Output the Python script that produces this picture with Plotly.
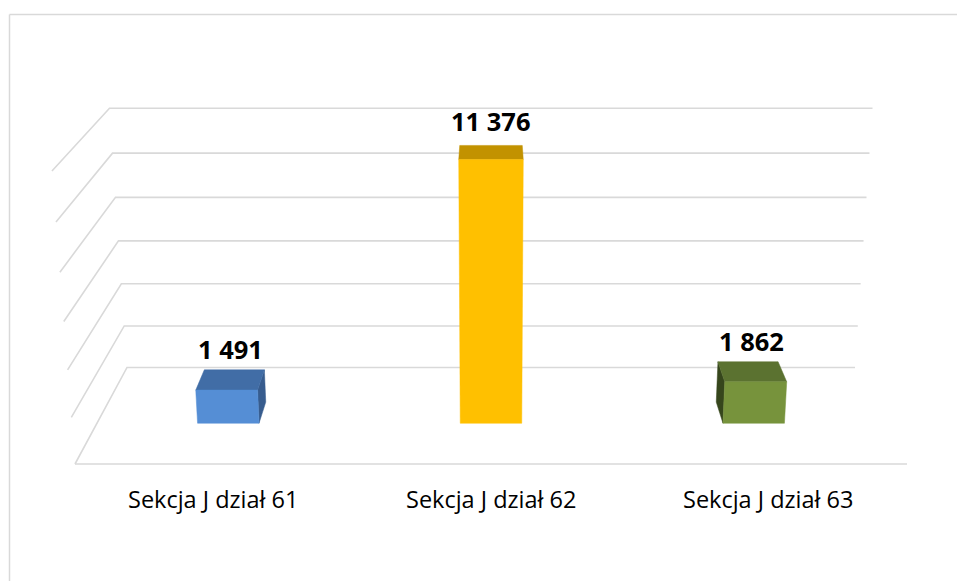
import plotly.graph_objects as go

# chart data
categories = ["Sekcja J dział 61", "Sekcja J dział 62", "Sekcja J dział 63"]
values = [1491, 11376, 1862]
gridline_values = [0, 2000, 4000, 6000, 8000, 10000, 12000]
axis_max = 12000

# colours of the three visible faces of each column
front_colors = ["#558ed5", "#ffc000", "#77933c"]
top_colors = ["#416da6", "#c29200", "#5b7230"]
side_colors = ["#375c8e", "#a67d00", "#36461c"]

W, H = 957, 581

# simple perspective camera (centred, looking slightly down) in pixel space
CX = 491
HALF_W = 416
FLOOR_FRONT = 464
WALL_H = 302
FLOOR_D = 44
PERSP_Y = -0.0525
PERSP_Z = 0.1429

BAR_HALF = 0.078          # half width of a column, in wall units (wall = -1..1)
Z_FRONT, Z_BACK = 0.39, 0.61
GRID_COLOR = "#d9d9d9"


def project(x, v, z):
    """world (x in -1..1, value, depth 0..1) -> pixel coords"""
    y = v / axis_max
    d = 1 + PERSP_Y * y + PERSP_Z * z
    return CX + HALF_W * x / d, (FLOOR_FRONT - WALL_H * y - FLOOR_D * z) / d


def polygon(points, color):
    xs, ys = zip(*[project(*p) for p in points])
    return go.Scatter(
        x=list(xs) + [xs[0]], y=list(ys) + [ys[0]],
        mode="lines", fill="toself", fillcolor=color,
        line=dict(width=0.5, color=color), hoverinfo="skip",
    )


fig = go.Figure()

# left wall + back wall gridlines, then the front edge of the floor
gx, gy = [], []
for t in gridline_values:
    for p in [(-1, t, 0), (-1, t, 1), (1, t, 1)]:
        px, py = project(*p)
        gx.append(px)
        gy.append(py)
    gx.append(None)
    gy.append(None)
for p in [(-1, 0, 0), (1, 0, 0)]:
    px, py = project(*p)
    gx.append(px)
    gy.append(py)
fig.add_trace(go.Scatter(x=gx, y=gy, mode="lines",
                         line=dict(color=GRID_COLOR, width=1.6), hoverinfo="skip"))

n = len(categories)
for i, v in enumerate(values):
    xc = -1 + (i + 0.5) * 2 / n
    x0, x1 = xc - BAR_HALF, xc + BAR_HALF

    # inner side face (only visible when the column is off-centre)
    if x1 < 0:
        fig.add_trace(polygon([(x1, 0, Z_FRONT), (x1, 0, Z_BACK),
                               (x1, v, Z_BACK), (x1, v, Z_FRONT)], side_colors[i]))
    elif x0 > 0:
        fig.add_trace(polygon([(x0, 0, Z_FRONT), (x0, 0, Z_BACK),
                               (x0, v, Z_BACK), (x0, v, Z_FRONT)], side_colors[i]))

    # top face
    fig.add_trace(polygon([(x0, v, Z_FRONT), (x1, v, Z_FRONT),
                           (x1, v, Z_BACK), (x0, v, Z_BACK)], top_colors[i]))
    # front face
    fig.add_trace(polygon([(x0, 0, Z_FRONT), (x1, 0, Z_FRONT),
                           (x1, v, Z_FRONT), (x0, v, Z_FRONT)], front_colors[i]))

    # value label above the column
    lx, ly = project(xc, v, (Z_FRONT + Z_BACK) / 2)
    fig.add_annotation(x=lx, y=ly, yshift=31, showarrow=False,
                       text=f"{v:,}".replace(",", " "),
                       font=dict(family="Open Sans", size=25.5, color="#000000", weight="bold"))

    # category label under the floor
    cx_, cy_ = project(xc, 0, 0)
    fig.add_annotation(x=cx_, y=cy_, yshift=-35, showarrow=False,
                       text=categories[i],
                       font=dict(family="Open Sans", size=23.5, color="#000000"))

# outline of the chart area (cropped on the right and bottom)
fig.add_shape(type="line", x0=9.5, y0=14.5, x1=W + 5, y1=14.5,
              line=dict(color=GRID_COLOR, width=1.5))
fig.add_shape(type="line", x0=9.5, y0=14.5, x1=9.5, y1=H + 5,
              line=dict(color=GRID_COLOR, width=1.5))

fig.update_layout(
    width=W, height=H,
    margin=dict(l=0, r=0, t=0, b=0),
    paper_bgcolor="white", plot_bgcolor="white",
    showlegend=False, hovermode=False,
    xaxis=dict(range=[0, W], visible=False, fixedrange=True),
    yaxis=dict(range=[H, 0], visible=False, fixedrange=True),
)

# drop the default page margin so the figure sits at the window origin
fig.write_html("out.html", config={"displayModeBar": False},
               post_script="document.body.style.margin='0';document.body.style.overflow='hidden';")
